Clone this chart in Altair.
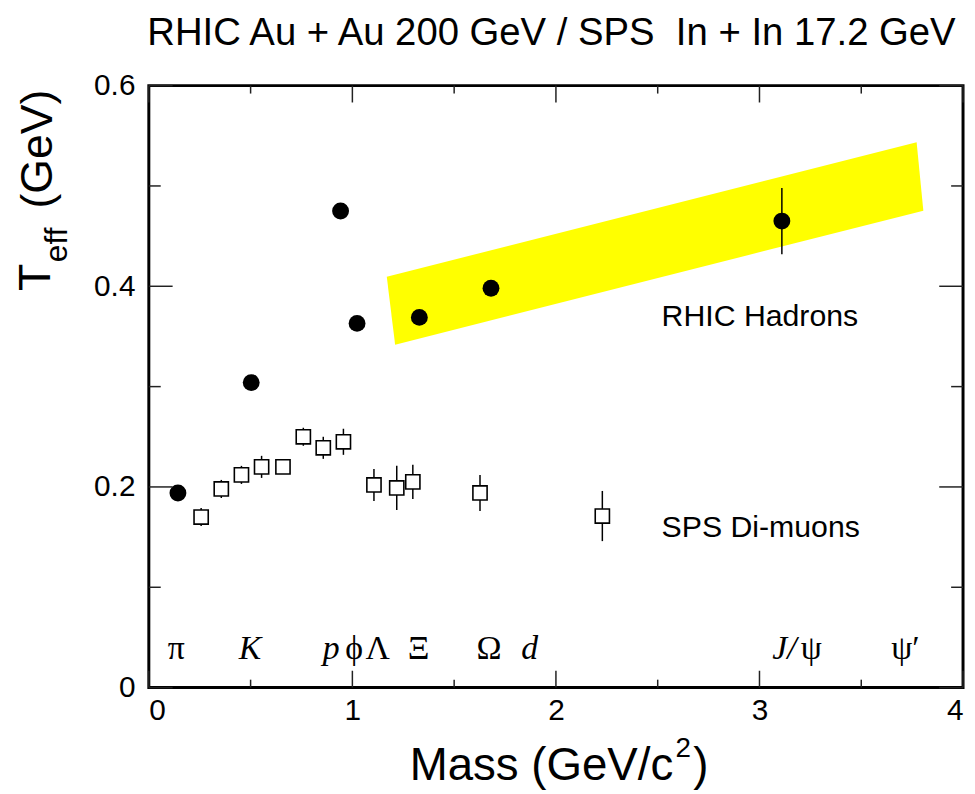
import pandas as pd
import altair as alt

# -----------------------------
# Data
# -----------------------------
rhic_mass = [0.143, 0.503, 0.942, 1.023, 1.329, 1.681, 3.110]
rhic_teff = [0.194, 0.304, 0.475, 0.363, 0.369, 0.398, 0.465]
rhic_err = [0.007, 0.007, 0.007, 0.007, 0.007, 0.007, 0.033]

sps_mass = [0.257, 0.356, 0.455, 0.554, 0.659, 0.759, 0.857, 0.956, 1.106, 1.218, 1.297, 1.627, 2.228]
sps_teff = [0.170, 0.198, 0.212, 0.220, 0.220, 0.250, 0.239, 0.245, 0.202, 0.199, 0.205, 0.194, 0.171]
sps_err = [0.009, 0.009, 0.009, 0.011, 0.006, 0.009, 0.011, 0.013, 0.016, 0.022, 0.017, 0.018, 0.025]

# corners of the yellow RHIC hadron band
band_mass = [1.169, 3.772, 3.805, 1.210]
band_teff = [0.4095, 0.5436, 0.4754, 0.3417]

upright_labels = ["π", "ϕ", "Λ", "Ξ", "Ω", "ψ", "ψ′"]
upright_pos = [0.135, 1.009, 1.125, 1.325, 1.671, 3.255, 3.717]
italic_labels = ["K", "p", "d", "J/"]
italic_pos = [0.497, 0.896, 1.871, 3.123]
particle_level = 0.0287

series_labels = ["RHIC Hadrons", "SPS Di-muons"]
series_label_x = [2.519, 2.519]
series_label_y = [0.3608, 0.1502]

x_major = [0, 1, 2, 3, 4]
x_minor = [0.5, 1.5, 2.5, 3.5]
y_major = [0, 0.2, 0.4, 0.6]
y_minor = [0.1, 0.3, 0.5]

W, H = 821, 607
SANS = "Liberation Sans"
SERIF = "Liberation Serif"

# -----------------------------
# Frames
# -----------------------------
rhic = pd.DataFrame({"m": rhic_mass, "t": rhic_teff, "e": rhic_err})
rhic["lo"] = rhic["t"] - rhic["e"]
rhic["hi"] = rhic["t"] + rhic["e"]
sps = pd.DataFrame({"m": sps_mass, "t": sps_teff, "e": sps_err})
sps["lo"] = sps["t"] - sps["e"]
sps["hi"] = sps["t"] + sps["e"]
band = pd.DataFrame({"m": band_mass, "t": band_teff, "o": range(len(band_mass))})

xs = alt.Scale(domain=[0, 4], nice=False)
ys = alt.Scale(domain=[0, 0.6], nice=False)

x_axis = alt.Axis(values=x_major, ticks=False, domain=False, grid=False, labelFont=SANS,
                  labelFontSize=30, labelPadding=8, labelColor="black", format="~g")
y_axis = alt.Axis(values=y_major, ticks=False, domain=False, grid=False, labelFont=SANS,
                  labelFontSize=30, labelPadding=14, labelColor="black", format="~g")

def X(field):
    return alt.X(field, scale=xs, title=None, axis=x_axis)

def Y(field):
    return alt.Y(field, scale=ys, title=None, axis=y_axis)

band_layer = (
    alt.Chart(band)
    .mark_line(interpolate="linear-closed", filled=True, color="#ffff00", strokeWidth=0)
    .encode(x=X("m:Q"), y=Y("t:Q"), order="o:Q")
)

sps_err_layer = (
    alt.Chart(sps).mark_rule(color="black", strokeWidth=1.5)
    .encode(x=X("m:Q"), y=Y("lo:Q"), y2="hi:Q")
)
sps_pts = (
    alt.Chart(sps)
    .mark_square(size=205, fill="white", stroke="black", strokeWidth=1.6, opacity=1)
    .encode(x=X("m:Q"), y=Y("t:Q"))
)

rhic_err_layer = (
    alt.Chart(rhic).mark_rule(color="black", strokeWidth=1.5)
    .encode(x=X("m:Q"), y=Y("lo:Q"), y2="hi:Q")
)
rhic_pts = (
    alt.Chart(rhic)
    .mark_circle(size=289, color="black", opacity=1)
    .encode(x=X("m:Q"), y=Y("t:Q"))
)

# particle names along the bottom
up_df = pd.DataFrame({"m": upright_pos, "t": particle_level, "txt": upright_labels})
it_df = pd.DataFrame({"m": italic_pos, "t": particle_level, "txt": italic_labels})
up_text = (
    alt.Chart(up_df)
    .mark_text(font=SERIF, fontSize=34, align="center", baseline="alphabetic", color="black")
    .encode(x=X("m:Q"), y=Y("t:Q"), text="txt:N")
)
it_text = (
    alt.Chart(it_df)
    .mark_text(font=SERIF, fontSize=34, fontStyle="italic", align="center", baseline="alphabetic", color="black")
    .encode(x=X("m:Q"), y=Y("t:Q"), text="txt:N")
)

ser_df = pd.DataFrame({"m": series_label_x, "t": series_label_y, "txt": series_labels})
ser_text = (
    alt.Chart(ser_df)
    .mark_text(font=SANS, fontSize=30.5, align="left", baseline="alphabetic", color="black")
    .encode(x=X("m:Q"), y=Y("t:Q"), text="txt:N")
)

# inward ticks on all four sides
def _xticks(vals, length):
    d = pd.DataFrame({"m": vals})
    base = alt.Chart(d).mark_rule(color="#222", strokeWidth=1.5)
    bot = base.encode(x=X("m:Q"), y=alt.value(H), y2=alt.value(H - length))
    top = base.encode(x=X("m:Q"), y=alt.value(0), y2=alt.value(length))
    return bot + top

def _yticks(vals, length):
    d = pd.DataFrame({"t": vals})
    base = alt.Chart(d).mark_rule(color="#222", strokeWidth=1.5)
    left = base.encode(y=Y("t:Q"), x=alt.value(0), x2=alt.value(length))
    right = base.encode(y=Y("t:Q"), x=alt.value(W), x2=alt.value(W - length))
    return left + right

ticks = _xticks(x_major, 17) + _xticks(x_minor, 8) + _yticks(y_major, 24) + _yticks(y_minor, 12)

# titles as text pieces (sub/superscripts)
def _txt(s, x, y, size, angle=0, align="left", baseline="alphabetic"):
    d = pd.DataFrame({"s": [s]})
    kw = dict(font=SANS, fontSize=size, align=align, baseline=baseline, color="black")
    if angle:
        kw["angle"] = angle
    return alt.Chart(d).mark_text(**kw).encode(x=alt.value(x), y=alt.value(y), text="s:N")

y_title = (
    _txt("T", -100, 207, 45, angle=270)
    + _txt("eff", -83, 178, 32, angle=270)
    + _txt("(GeV)", -98, 124, 45, angle=270)
)
x_title = (
    _txt("Mass (GeV/c", 263, H + 93, 46)
    + _txt("2", 531, H + 70, 28)
    + _txt(")", 549, H + 93, 46)
)
top_title = _txt("RHIC Au + Au 200 GeV / SPS\u00a0 In + In 17.2 GeV", 406, -41, 38.6, align="center")

chart = (
    alt.layer(
        band_layer, sps_err_layer, sps_pts, rhic_err_layer, rhic_pts,
        up_text, it_text, ser_text, ticks, y_title, x_title, top_title,
    )
    .properties(
        width=W, height=H,
        autosize=alt.AutoSizeParams(type="none"),
        padding={"left": 142, "top": 75, "right": 4, "bottom": 102},
        background="white",
    )
    .configure_view(stroke="black", strokeWidth=3)
    .configure_axis(labelFont=SANS, labelFontSize=30, labelColor="black")
)

chart.save("out.html", embed_options={"renderer": "svg", "actions": False})
